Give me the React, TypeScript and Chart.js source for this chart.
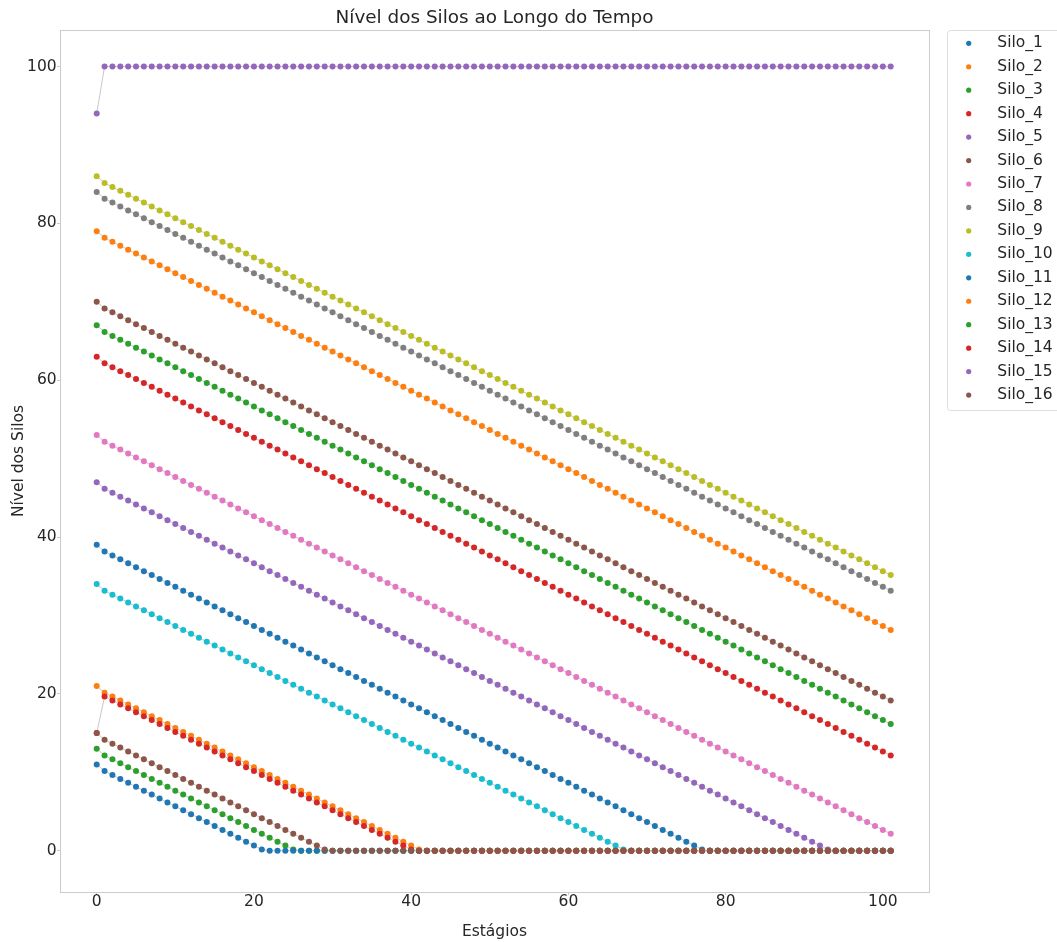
import React, { useEffect, useRef } from "react";
import { Chart, registerables } from "chart.js";

Chart.register(...registerables);

const FONT = "'DejaVu Sans', 'Liberation Sans', sans-serif";
const TEXT_COLOR = "#262626";

const TITLE = "Nível dos Silos ao Longo do Tempo";
const X_TITLE = "Estágios";
const Y_TITLE = "Nível dos Silos";

const X_TICKS = [0, 20, 40, 60, 80, 100];
const Y_TICKS = [0, 20, 40, 60, 80, 100];

const STAGES = [
  0, 1, 2, 3, 4, 5, 6, 7, 8, 9,
  10, 11, 12, 13, 14, 15, 16, 17, 18, 19,
  20, 21, 22, 23, 24, 25, 26, 27, 28, 29,
  30, 31, 32, 33, 34, 35, 36, 37, 38, 39,
  40, 41, 42, 43, 44, 45, 46, 47, 48, 49,
  50, 51, 52, 53, 54, 55, 56, 57, 58, 59,
  60, 61, 62, 63, 64, 65, 66, 67, 68, 69,
  70, 71, 72, 73, 74, 75, 76, 77, 78, 79,
  80, 81, 82, 83, 84, 85, 86, 87, 88, 89,
  90, 91, 92, 93, 94, 95, 96, 97, 98, 99,
  100, 101,
];

const SILO_NAMES = [
  "Silo_1", "Silo_2", "Silo_3", "Silo_4", "Silo_5", "Silo_6", "Silo_7", "Silo_8",
  "Silo_9", "Silo_10", "Silo_11", "Silo_12", "Silo_13", "Silo_14", "Silo_15", "Silo_16",
];

const SILO_COLORS = [
  "#1f77b4", "#ff7f0e", "#2ca02c", "#d62728", "#9467bd", "#8c564b", "#e377c2", "#7f7f7f",
  "#bcbd22", "#17becf", "#1f77b4", "#ff7f0e", "#2ca02c", "#d62728", "#9467bd", "#8c564b",
];

const SILO_1 = [
  39,
  38.15, 37.65, 37.15, 36.65, 36.15, 35.65, 35.15, 34.65, 34.15, 33.65,
  33.15, 32.65, 32.15, 31.65, 31.15, 30.65, 30.15, 29.65, 29.15, 28.65,
  28.15, 27.65, 27.15, 26.65, 26.15, 25.65, 25.15, 24.65, 24.15, 23.65,
  23.15, 22.65, 22.15, 21.65, 21.15, 20.65, 20.15, 19.65, 19.15, 18.65,
  18.15, 17.65, 17.15, 16.65, 16.15, 15.65, 15.15, 14.65, 14.15, 13.65,
  13.15, 12.65, 12.15, 11.65, 11.15, 10.65, 10.15, 9.65, 9.15, 8.65,
  8.15, 7.65, 7.15, 6.65, 6.15, 5.65, 5.15, 4.65, 4.15, 3.65,
  3.15, 2.65, 2.15, 1.65, 1.15, 0.65, 0.15,
  0, 0, 0, 0, 0, 0, 0, 0, 0, 0,
  0, 0, 0, 0, 0, 0, 0, 0, 0, 0,
  0, 0, 0, 0,
];

const SILO_2 = [
  79,
  78.15, 77.65, 77.15, 76.65, 76.15, 75.65, 75.15, 74.65, 74.15, 73.65,
  73.15, 72.65, 72.15, 71.65, 71.15, 70.65, 70.15, 69.65, 69.15, 68.65,
  68.15, 67.65, 67.15, 66.65, 66.15, 65.65, 65.15, 64.65, 64.15, 63.65,
  63.15, 62.65, 62.15, 61.65, 61.15, 60.65, 60.15, 59.65, 59.15, 58.65,
  58.15, 57.65, 57.15, 56.65, 56.15, 55.65, 55.15, 54.65, 54.15, 53.65,
  53.15, 52.65, 52.15, 51.65, 51.15, 50.65, 50.15, 49.65, 49.15, 48.65,
  48.15, 47.65, 47.15, 46.65, 46.15, 45.65, 45.15, 44.65, 44.15, 43.65,
  43.15, 42.65, 42.15, 41.65, 41.15, 40.65, 40.15, 39.65, 39.15, 38.65,
  38.15, 37.65, 37.15, 36.65, 36.15, 35.65, 35.15, 34.65, 34.15, 33.65,
  33.15, 32.65, 32.15, 31.65, 31.15, 30.65, 30.15, 29.65, 29.15, 28.65,
  28.15,
];

const SILO_3 = [
  13,
  12.15, 11.65, 11.15, 10.65, 10.15, 9.65, 9.15, 8.65, 8.15, 7.65,
  7.15, 6.65, 6.15, 5.65, 5.15, 4.65, 4.15, 3.65, 3.15, 2.65,
  2.15, 1.65, 1.15, 0.65, 0.15,
  0, 0, 0, 0, 0, 0, 0, 0, 0, 0,
  0, 0, 0, 0, 0, 0, 0, 0, 0, 0,
  0, 0, 0, 0, 0, 0, 0, 0, 0, 0,
  0, 0, 0, 0, 0, 0, 0, 0, 0, 0,
  0, 0, 0, 0, 0, 0, 0, 0, 0, 0,
  0, 0, 0, 0, 0, 0, 0, 0, 0, 0,
  0, 0, 0, 0, 0, 0, 0, 0, 0, 0,
  0, 0, 0, 0, 0, 0,
];

const SILO_4 = [
  63,
  62.15, 61.65, 61.15, 60.65, 60.15, 59.65, 59.15, 58.65, 58.15, 57.65,
  57.15, 56.65, 56.15, 55.65, 55.15, 54.65, 54.15, 53.65, 53.15, 52.65,
  52.15, 51.65, 51.15, 50.65, 50.15, 49.65, 49.15, 48.65, 48.15, 47.65,
  47.15, 46.65, 46.15, 45.65, 45.15, 44.65, 44.15, 43.65, 43.15, 42.65,
  42.15, 41.65, 41.15, 40.65, 40.15, 39.65, 39.15, 38.65, 38.15, 37.65,
  37.15, 36.65, 36.15, 35.65, 35.15, 34.65, 34.15, 33.65, 33.15, 32.65,
  32.15, 31.65, 31.15, 30.65, 30.15, 29.65, 29.15, 28.65, 28.15, 27.65,
  27.15, 26.65, 26.15, 25.65, 25.15, 24.65, 24.15, 23.65, 23.15, 22.65,
  22.15, 21.65, 21.15, 20.65, 20.15, 19.65, 19.15, 18.65, 18.15, 17.65,
  17.15, 16.65, 16.15, 15.65, 15.15, 14.65, 14.15, 13.65, 13.15, 12.65,
  12.15,
];

const SILO_5 = [
  47,
  46.15, 45.65, 45.15, 44.65, 44.15, 43.65, 43.15, 42.65, 42.15, 41.65,
  41.15, 40.65, 40.15, 39.65, 39.15, 38.65, 38.15, 37.65, 37.15, 36.65,
  36.15, 35.65, 35.15, 34.65, 34.15, 33.65, 33.15, 32.65, 32.15, 31.65,
  31.15, 30.65, 30.15, 29.65, 29.15, 28.65, 28.15, 27.65, 27.15, 26.65,
  26.15, 25.65, 25.15, 24.65, 24.15, 23.65, 23.15, 22.65, 22.15, 21.65,
  21.15, 20.65, 20.15, 19.65, 19.15, 18.65, 18.15, 17.65, 17.15, 16.65,
  16.15, 15.65, 15.15, 14.65, 14.15, 13.65, 13.15, 12.65, 12.15, 11.65,
  11.15, 10.65, 10.15, 9.65, 9.15, 8.65, 8.15, 7.65, 7.15, 6.65,
  6.15, 5.65, 5.15, 4.65, 4.15, 3.65, 3.15, 2.65, 2.15, 1.65,
  1.15, 0.65, 0.15,
  0, 0, 0, 0, 0, 0, 0, 0,
];

const SILO_6 = [
  70,
  69.15, 68.65, 68.15, 67.65, 67.15, 66.65, 66.15, 65.65, 65.15, 64.65,
  64.15, 63.65, 63.15, 62.65, 62.15, 61.65, 61.15, 60.65, 60.15, 59.65,
  59.15, 58.65, 58.15, 57.65, 57.15, 56.65, 56.15, 55.65, 55.15, 54.65,
  54.15, 53.65, 53.15, 52.65, 52.15, 51.65, 51.15, 50.65, 50.15, 49.65,
  49.15, 48.65, 48.15, 47.65, 47.15, 46.65, 46.15, 45.65, 45.15, 44.65,
  44.15, 43.65, 43.15, 42.65, 42.15, 41.65, 41.15, 40.65, 40.15, 39.65,
  39.15, 38.65, 38.15, 37.65, 37.15, 36.65, 36.15, 35.65, 35.15, 34.65,
  34.15, 33.65, 33.15, 32.65, 32.15, 31.65, 31.15, 30.65, 30.15, 29.65,
  29.15, 28.65, 28.15, 27.65, 27.15, 26.65, 26.15, 25.65, 25.15, 24.65,
  24.15, 23.65, 23.15, 22.65, 22.15, 21.65, 21.15, 20.65, 20.15, 19.65,
  19.15,
];

const SILO_7 = [
  53,
  52.15, 51.65, 51.15, 50.65, 50.15, 49.65, 49.15, 48.65, 48.15, 47.65,
  47.15, 46.65, 46.15, 45.65, 45.15, 44.65, 44.15, 43.65, 43.15, 42.65,
  42.15, 41.65, 41.15, 40.65, 40.15, 39.65, 39.15, 38.65, 38.15, 37.65,
  37.15, 36.65, 36.15, 35.65, 35.15, 34.65, 34.15, 33.65, 33.15, 32.65,
  32.15, 31.65, 31.15, 30.65, 30.15, 29.65, 29.15, 28.65, 28.15, 27.65,
  27.15, 26.65, 26.15, 25.65, 25.15, 24.65, 24.15, 23.65, 23.15, 22.65,
  22.15, 21.65, 21.15, 20.65, 20.15, 19.65, 19.15, 18.65, 18.15, 17.65,
  17.15, 16.65, 16.15, 15.65, 15.15, 14.65, 14.15, 13.65, 13.15, 12.65,
  12.15, 11.65, 11.15, 10.65, 10.15, 9.65, 9.15, 8.65, 8.15, 7.65,
  7.15, 6.65, 6.15, 5.65, 5.15, 4.65, 4.15, 3.65, 3.15, 2.65,
  2.15,
];

const SILO_8 = [
  84,
  83.15, 82.65, 82.15, 81.65, 81.15, 80.65, 80.15, 79.65, 79.15, 78.65,
  78.15, 77.65, 77.15, 76.65, 76.15, 75.65, 75.15, 74.65, 74.15, 73.65,
  73.15, 72.65, 72.15, 71.65, 71.15, 70.65, 70.15, 69.65, 69.15, 68.65,
  68.15, 67.65, 67.15, 66.65, 66.15, 65.65, 65.15, 64.65, 64.15, 63.65,
  63.15, 62.65, 62.15, 61.65, 61.15, 60.65, 60.15, 59.65, 59.15, 58.65,
  58.15, 57.65, 57.15, 56.65, 56.15, 55.65, 55.15, 54.65, 54.15, 53.65,
  53.15, 52.65, 52.15, 51.65, 51.15, 50.65, 50.15, 49.65, 49.15, 48.65,
  48.15, 47.65, 47.15, 46.65, 46.15, 45.65, 45.15, 44.65, 44.15, 43.65,
  43.15, 42.65, 42.15, 41.65, 41.15, 40.65, 40.15, 39.65, 39.15, 38.65,
  38.15, 37.65, 37.15, 36.65, 36.15, 35.65, 35.15, 34.65, 34.15, 33.65,
  33.15,
];

const SILO_9 = [
  86,
  85.15, 84.65, 84.15, 83.65, 83.15, 82.65, 82.15, 81.65, 81.15, 80.65,
  80.15, 79.65, 79.15, 78.65, 78.15, 77.65, 77.15, 76.65, 76.15, 75.65,
  75.15, 74.65, 74.15, 73.65, 73.15, 72.65, 72.15, 71.65, 71.15, 70.65,
  70.15, 69.65, 69.15, 68.65, 68.15, 67.65, 67.15, 66.65, 66.15, 65.65,
  65.15, 64.65, 64.15, 63.65, 63.15, 62.65, 62.15, 61.65, 61.15, 60.65,
  60.15, 59.65, 59.15, 58.65, 58.15, 57.65, 57.15, 56.65, 56.15, 55.65,
  55.15, 54.65, 54.15, 53.65, 53.15, 52.65, 52.15, 51.65, 51.15, 50.65,
  50.15, 49.65, 49.15, 48.65, 48.15, 47.65, 47.15, 46.65, 46.15, 45.65,
  45.15, 44.65, 44.15, 43.65, 43.15, 42.65, 42.15, 41.65, 41.15, 40.65,
  40.15, 39.65, 39.15, 38.65, 38.15, 37.65, 37.15, 36.65, 36.15, 35.65,
  35.15,
];

const SILO_10 = [
  34,
  33.15, 32.65, 32.15, 31.65, 31.15, 30.65, 30.15, 29.65, 29.15, 28.65,
  28.15, 27.65, 27.15, 26.65, 26.15, 25.65, 25.15, 24.65, 24.15, 23.65,
  23.15, 22.65, 22.15, 21.65, 21.15, 20.65, 20.15, 19.65, 19.15, 18.65,
  18.15, 17.65, 17.15, 16.65, 16.15, 15.65, 15.15, 14.65, 14.15, 13.65,
  13.15, 12.65, 12.15, 11.65, 11.15, 10.65, 10.15, 9.65, 9.15, 8.65,
  8.15, 7.65, 7.15, 6.65, 6.15, 5.65, 5.15, 4.65, 4.15, 3.65,
  3.15, 2.65, 2.15, 1.65, 1.15, 0.65, 0.15,
  0, 0, 0, 0, 0, 0, 0, 0, 0, 0,
  0, 0, 0, 0, 0, 0, 0, 0, 0, 0,
  0, 0, 0, 0, 0, 0, 0, 0, 0, 0,
  0, 0, 0, 0,
];

const SILO_11 = [
  11,
  10.15, 9.65, 9.15, 8.65, 8.15, 7.65, 7.15, 6.65, 6.15, 5.65,
  5.15, 4.65, 4.15, 3.65, 3.15, 2.65, 2.15, 1.65, 1.15, 0.65,
  0.15,
  0, 0, 0, 0, 0, 0, 0, 0, 0, 0,
  0, 0, 0, 0, 0, 0, 0, 0, 0, 0,
  0, 0, 0, 0, 0, 0, 0, 0, 0, 0,
  0, 0, 0, 0, 0, 0, 0, 0, 0, 0,
  0, 0, 0, 0, 0, 0, 0, 0, 0, 0,
  0, 0, 0, 0, 0, 0, 0, 0, 0, 0,
  0, 0, 0, 0, 0, 0, 0, 0, 0, 0,
  0, 0, 0, 0, 0, 0, 0, 0, 0, 0,
];

const SILO_12 = [
  21,
  20.15, 19.65, 19.15, 18.65, 18.15, 17.65, 17.15, 16.65, 16.15, 15.65,
  15.15, 14.65, 14.15, 13.65, 13.15, 12.65, 12.15, 11.65, 11.15, 10.65,
  10.15, 9.65, 9.15, 8.65, 8.15, 7.65, 7.15, 6.65, 6.15, 5.65,
  5.15, 4.65, 4.15, 3.65, 3.15, 2.65, 2.15, 1.65, 1.15, 0.65,
  0.15,
  0, 0, 0, 0, 0, 0, 0, 0, 0, 0,
  0, 0, 0, 0, 0, 0, 0, 0, 0, 0,
  0, 0, 0, 0, 0, 0, 0, 0, 0, 0,
  0, 0, 0, 0, 0, 0, 0, 0, 0, 0,
  0, 0, 0, 0, 0, 0, 0, 0, 0, 0,
  0, 0, 0, 0, 0, 0, 0, 0, 0, 0,
];

const SILO_13 = [
  67,
  66.15, 65.65, 65.15, 64.65, 64.15, 63.65, 63.15, 62.65, 62.15, 61.65,
  61.15, 60.65, 60.15, 59.65, 59.15, 58.65, 58.15, 57.65, 57.15, 56.65,
  56.15, 55.65, 55.15, 54.65, 54.15, 53.65, 53.15, 52.65, 52.15, 51.65,
  51.15, 50.65, 50.15, 49.65, 49.15, 48.65, 48.15, 47.65, 47.15, 46.65,
  46.15, 45.65, 45.15, 44.65, 44.15, 43.65, 43.15, 42.65, 42.15, 41.65,
  41.15, 40.65, 40.15, 39.65, 39.15, 38.65, 38.15, 37.65, 37.15, 36.65,
  36.15, 35.65, 35.15, 34.65, 34.15, 33.65, 33.15, 32.65, 32.15, 31.65,
  31.15, 30.65, 30.15, 29.65, 29.15, 28.65, 28.15, 27.65, 27.15, 26.65,
  26.15, 25.65, 25.15, 24.65, 24.15, 23.65, 23.15, 22.65, 22.15, 21.65,
  21.15, 20.65, 20.15, 19.65, 19.15, 18.65, 18.15, 17.65, 17.15, 16.65,
  16.15,
];

const SILO_14 = [
  15,
  19.65, 19.15, 18.65, 18.15, 17.65, 17.15, 16.65, 16.15, 15.65, 15.15,
  14.65, 14.15, 13.65, 13.15, 12.65, 12.15, 11.65, 11.15, 10.65, 10.15,
  9.65, 9.15, 8.65, 8.15, 7.65, 7.15, 6.65, 6.15, 5.65, 5.15,
  4.65, 4.15, 3.65, 3.15, 2.65, 2.15, 1.65, 1.15, 0.65, 0.15,
  0, 0, 0, 0, 0, 0, 0, 0, 0, 0,
  0, 0, 0, 0, 0, 0, 0, 0, 0, 0,
  0, 0, 0, 0, 0, 0, 0, 0, 0, 0,
  0, 0, 0, 0, 0, 0, 0, 0, 0, 0,
  0, 0, 0, 0, 0, 0, 0, 0, 0, 0,
  0, 0, 0, 0, 0, 0, 0, 0, 0, 0,
  0,
];

const SILO_15 = [
  94,
  100, 100, 100, 100, 100, 100, 100, 100, 100, 100,
  100, 100, 100, 100, 100, 100, 100, 100, 100, 100,
  100, 100, 100, 100, 100, 100, 100, 100, 100, 100,
  100, 100, 100, 100, 100, 100, 100, 100, 100, 100,
  100, 100, 100, 100, 100, 100, 100, 100, 100, 100,
  100, 100, 100, 100, 100, 100, 100, 100, 100, 100,
  100, 100, 100, 100, 100, 100, 100, 100, 100, 100,
  100, 100, 100, 100, 100, 100, 100, 100, 100, 100,
  100, 100, 100, 100, 100, 100, 100, 100, 100, 100,
  100, 100, 100, 100, 100, 100, 100, 100, 100, 100,
  100,
];

const SILO_16 = [
  15,
  14.15, 13.65, 13.15, 12.65, 12.15, 11.65, 11.15, 10.65, 10.15, 9.65,
  9.15, 8.65, 8.15, 7.65, 7.15, 6.65, 6.15, 5.65, 5.15, 4.65,
  4.15, 3.65, 3.15, 2.65, 2.15, 1.65, 1.15, 0.65, 0.15,
  0, 0, 0, 0, 0, 0, 0, 0, 0, 0,
  0, 0, 0, 0, 0, 0, 0, 0, 0, 0,
  0, 0, 0, 0, 0, 0, 0, 0, 0, 0,
  0, 0, 0, 0, 0, 0, 0, 0, 0, 0,
  0, 0, 0, 0, 0, 0, 0, 0, 0, 0,
  0, 0, 0, 0, 0, 0, 0, 0, 0, 0,
  0, 0, 0, 0, 0, 0, 0, 0, 0, 0,
  0, 0,
];

const SILO_SERIES = [
  SILO_1, SILO_2, SILO_3, SILO_4, SILO_5, SILO_6, SILO_7, SILO_8,
  SILO_9, SILO_10, SILO_11, SILO_12, SILO_13, SILO_14, SILO_15, SILO_16,
];

const framePlugin = {
  id: "frameBox",
  afterDatasetsDraw(chart: any) {
    const { ctx, chartArea: a } = chart;
    ctx.save();
    ctx.strokeStyle = "#cccccc";
    ctx.lineWidth = 1;
    ctx.strokeRect(Math.round(a.left) + 0.5, Math.round(a.top) + 0.5, Math.round(a.right - a.left), Math.round(a.bottom - a.top));
    ctx.restore();
  },
};

const legendPlugin = {
  id: "sideLegend",
  afterDraw(chart: any) {
    const { ctx, chartArea: a } = chart;
    const boxLeft = a.right + 18.5;
    const boxTop = a.top + 0.5;
    const boxW = 140;
    const boxH = 380;
    const r = 3;
    ctx.save();
    ctx.beginPath();
    ctx.moveTo(boxLeft + r, boxTop);
    ctx.lineTo(boxLeft + boxW - r, boxTop);
    ctx.arcTo(boxLeft + boxW, boxTop, boxLeft + boxW, boxTop + r, r);
    ctx.lineTo(boxLeft + boxW, boxTop + boxH - r);
    ctx.arcTo(boxLeft + boxW, boxTop + boxH, boxLeft + boxW - r, boxTop + boxH, r);
    ctx.lineTo(boxLeft + r, boxTop + boxH);
    ctx.arcTo(boxLeft, boxTop + boxH, boxLeft, boxTop + boxH - r, r);
    ctx.lineTo(boxLeft, boxTop + r);
    ctx.arcTo(boxLeft, boxTop, boxLeft + r, boxTop, r);
    ctx.closePath();
    ctx.fillStyle = "#ffffff";
    ctx.fill();
    ctx.strokeStyle = "#dddddd";
    ctx.lineWidth = 1;
    ctx.stroke();

    ctx.font = `15.5px ${FONT}`;
    ctx.textBaseline = "middle";
    ctx.textAlign = "left";
    SILO_NAMES.forEach((name, i) => {
      const cy = a.top + 13.3 + i * 23.45;
      ctx.beginPath();
      ctx.arc(boxLeft + 21.2, cy, 2.6, 0, Math.PI * 2);
      ctx.fillStyle = SILO_COLORS[i];
      ctx.fill();
      ctx.fillStyle = TEXT_COLOR;
      ctx.fillText(name, boxLeft + 49.8, cy);
    });
    ctx.restore();
  },
};

export default function App() {
  const canvasRef = useRef<HTMLCanvasElement | null>(null);

  useEffect(() => {
    const canvas = canvasRef.current;
    if (!canvas) return;

    const lineSets = SILO_SERIES.map((vals, i) => ({
      label: SILO_NAMES[i] + " line",
      data: vals.map((v, k) => ({ x: STAGES[k], y: v })),
      showLine: true,
      borderColor: "#c2c2c2",
      borderWidth: 0.9,
      pointRadius: 0,
      pointHoverRadius: 0,
      fill: false,
      order: 100,
    }));

    const pointSets = SILO_SERIES.map((vals, i) => ({
      label: SILO_NAMES[i],
      data: vals.map((v, k) => ({ x: STAGES[k], y: v })),
      showLine: false,
      backgroundColor: SILO_COLORS[i],
      borderColor: SILO_COLORS[i],
      pointBackgroundColor: SILO_COLORS[i],
      pointBorderWidth: 0,
      pointRadius: 3,
      pointHoverRadius: 3,
      order: SILO_SERIES.length - i,
    }));

    const chart = new Chart(canvas, {
      type: "scatter",
      data: { datasets: [...lineSets, ...pointSets] as any },
      options: {
        responsive: false,
        animation: false,
        events: [],
        layout: { padding: { left: 0, top: 0, bottom: 0, right: 128 } },
        plugins: {
          legend: { display: false },
          tooltip: { enabled: false },
          title: {
            display: true,
            text: TITLE,
            color: TEXT_COLOR,
            fullSize: false,
            font: { family: FONT, size: 18.4, weight: "normal", lineHeight: 1.2 },
            padding: { top: 6.96, bottom: 0.96 },
          },
        },
        scales: {
          x: {
            type: "linear",
            position: "bottom",
            min: -4.67,
            max: 105.87,
            afterFit: (s: any) => { s.height = 50; },
            afterBuildTicks: (s: any) => { s.ticks = X_TICKS.map((v) => ({ value: v })); },
            ticks: {
              color: TEXT_COLOR,
              font: { family: FONT, size: 15.5, lineHeight: 1.2 },
              padding: -2,
              maxRotation: 0,
              autoSkip: false,
            },
            grid: { display: true, drawOnChartArea: false, drawTicks: true, tickLength: 3, color: "#cccccc" },
            border: { display: false },
            title: {
              display: true,
              text: X_TITLE,
              color: TEXT_COLOR,
              font: { family: FONT, size: 15.5, lineHeight: 1.2 },
              padding: { top: 0, bottom: 0.7 },
            },
          },
          y: {
            type: "linear",
            position: "left",
            min: -5.27,
            max: 104.66,
            afterFit: (s: any) => { s.width = 60; },
            afterBuildTicks: (s: any) => { s.ticks = Y_TICKS.map((v) => ({ value: v })); },
            ticks: {
              color: TEXT_COLOR,
              font: { family: FONT, size: 15.5, lineHeight: 1.2 },
              padding: 0.3,
              autoSkip: false,
            },
            grid: { display: true, drawOnChartArea: false, drawTicks: true, tickLength: 3, color: "#cccccc" },
            border: { display: false },
            title: {
              display: true,
              text: Y_TITLE,
              color: TEXT_COLOR,
              font: { family: FONT, size: 15.5, lineHeight: 1.2 },
              padding: { top: 9.7, bottom: 0 },
            },
          },
        },
      },
      plugins: [framePlugin, legendPlugin],
    });

    return () => chart.destroy();
  }, []);

  return (
    <div style={{ position: "absolute", left: 0, top: 0, width: 1057, height: 942, background: "#ffffff" }}>
      <canvas ref={canvasRef} width={1057} height={942} style={{ display: "block" }} />
    </div>
  );
}
